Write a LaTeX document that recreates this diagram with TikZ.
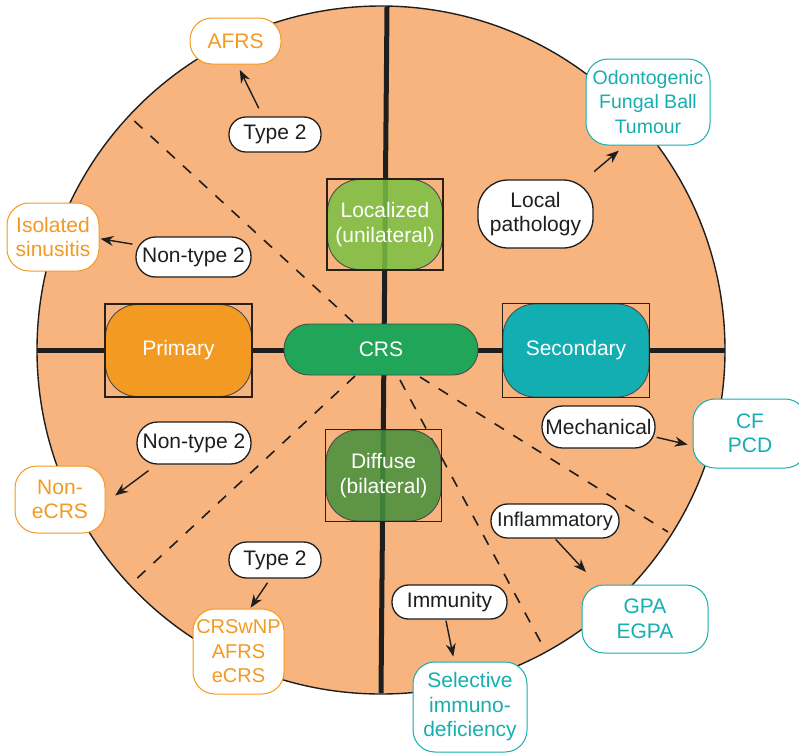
\documentclass[tikz,border=0pt]{standalone}
\usepackage{fontspec}
\setmainfont{Liberation Sans}
\usetikzlibrary{arrows.meta}

\definecolor{peach}{HTML}{F7B47F}
\definecolor{crsgreen}{HTML}{21A659}
\definecolor{primaryc}{HTML}{F39A22}
\definecolor{secondaryc}{HTML}{12AEB2}
\definecolor{localc}{HTML}{7AC043}
\definecolor{diffusec}{HTML}{43903C}
\definecolor{outorange}{HTML}{F39A22}
\definecolor{outteal}{HTML}{17AEAF}
\definecolor{framec}{HTML}{2A2018}
\definecolor{inkc}{HTML}{1E1E1E}

\newcommand{\txt}{\fontsize{21}{24.5}\selectfont}

\tikzset{
  axisline/.style={draw=inkc, line width=5pt},
  divider/.style={draw=inkc, line width=1.6pt, dash pattern=on 11pt off 11pt},
  mainbox/.style={draw=inkc!80, line width=0.9pt, rounded corners=32pt,
    text=white, align=center, inner sep=0pt, font=\txt},
  seethrough/.style={fill opacity=0.85, text opacity=1},
  framebox/.style={draw=framec, line width=1.4pt},
  pill/.style={draw=inkc, line width=1.3pt, fill=white, rounded corners=#1,
    text=inkc, align=center, inner sep=0pt, font=\txt},
  outbox/.style={draw=#1, line width=1pt, fill=white, rounded corners=22pt,
    text=#1, align=center, inner sep=0pt, font=\txt},
  arr/.style={draw=inkc, line width=1.4pt, -{Stealth[length=13pt,width=10pt]}}
}

\begin{document}
\begin{tikzpicture}[x=1pt,y=-1pt]
\useasboundingbox (0,0) rectangle (799,753);

% disc and its two axes
\fill[peach] (381,350) circle (344pt);
\draw[inkc, line width=1.4pt] (381,350) circle (344pt);
\draw[axisline] (387,7) -- (381,693);
\draw[axisline] (37,350) -- (725,350);

% dashed sector dividers
\draw[divider] (353,322) -- (130,117);
\draw[divider] (355,376) -- (132,583);
\draw[divider] (420,377) -- (668,532);
\draw[divider] (400,380) -- (545,650);

% classification boxes
\node[mainbox, fill=primaryc, minimum width=146pt, minimum height=92pt] (primary) at (178.5,350.5) {Primary};
\draw[framebox] (primary.north west) rectangle (primary.south east);
\node[mainbox, fill=secondaryc, minimum width=146pt, minimum height=93pt] (secondary) at (576,350.5) {Secondary};
\draw[framebox] (secondary.north west) rectangle (secondary.south east);
\node[mainbox, seethrough, fill=localc, minimum width=115pt, minimum height=90pt] (localized) at (385,224.5) {Localized\\(unilateral)};
\draw[framebox] (localized.north west) rectangle (localized.south east);
\node[mainbox, seethrough, fill=diffusec, minimum width=115pt, minimum height=91pt] (diffuse) at (383.5,475.5) {Diffuse\\(bilateral)};
\draw[framebox] (diffuse.north west) rectangle (diffuse.south east);

\node[mainbox, fill=crsgreen, rounded corners=25pt, minimum width=194pt, minimum height=51pt] (crs) at (381,349.5) {CRS};

% mechanism labels
\node[pill=17pt, minimum width=92pt, minimum height=35pt] (t2a) at (275,134.5) {Type 2};
\node[pill=19.5pt, minimum width=115pt, minimum height=40pt] (nt2a) at (193.5,257) {Non-type 2};
\node[pill=30pt, minimum width=115pt, minimum height=68pt] (lp) at (535.5,214) {Local\\pathology};
\node[pill=20.5pt, minimum width=114pt, minimum height=42pt] (nt2b) at (194,443) {Non-type 2};
\node[pill=17.5pt, minimum width=92pt, minimum height=36pt] (t2b) at (275,560) {Type 2};
\node[pill=20.5pt, minimum width=113pt, minimum height=42pt] (mech) at (598.5,427) {Mechanical};
\node[pill=16.5pt, minimum width=128pt, minimum height=34pt, font=\fontsize{20}{24}\selectfont] (infl) at (555,521) {Inflammatory};
\node[pill=16.5pt, minimum width=115pt, minimum height=34pt] (immu) at (449.5,602) {Immunity};

% resulting entities
\node[outbox=outorange, minimum width=91pt, minimum height=46pt] (afrs) at (235.5,41) {AFRS};
\node[outbox=outorange, minimum width=92pt, minimum height=68pt] (iso) at (53,237) {Isolated\\sinusitis};
\node[outbox=outorange, minimum width=90pt, minimum height=67pt] (nonecrs) at (60,499.5) {Non-\\eCRS};
\node[outbox=outorange, minimum width=91pt, minimum height=85pt, font=\fontsize{20}{24.5}\selectfont] (crswnp) at (238.5,651.5) {CRSwNP\\AFRS\\eCRS};
\node[outbox=outteal, minimum width=124pt, minimum height=86pt, font=\fontsize{19.5}{24.5}\selectfont] (odon) at (648,102) {Odontogenic\\Fungal Ball\\Tumour};
\node[outbox=outteal, minimum width=114pt, minimum height=69pt] (cfpcd) at (750,433.5) {CF\\PCD};
\node[outbox=outteal, minimum width=126pt, minimum height=68pt] (gpa) at (645,619) {GPA\\EGPA};
\node[outbox=outteal, minimum width=114pt, minimum height=90pt] (sel) at (470,707) {Selective\\immuno-\\deficiency};

% arrows
\draw[arr, shorten <=9pt, shorten >=6pt] (t2a.124) -- (afrs.-86);
\draw[arr, shorten <=3pt, shorten >=1pt] (nt2a.168) -- (iso.-2.5);
\draw[arr, shorten <=12pt, shorten >=8pt] (lp.35) -- (odon.-118);
\draw[arr, shorten <=10pt, shorten >=12pt] (nt2b.210) -- (nonecrs.-4.5);
\draw[arr, shorten <=5pt, shorten >=1pt] (t2b.256) -- (crswnp.75.5);
\draw[arr, shorten <=1pt, shorten >=5pt] (mech.-10) -- (cfpcd.192.4);
\draw[arr, shorten <=1pt, shorten >=17pt] (infl.south) -- (gpa.144);
\draw[arr, shorten <=1pt, shorten >=5pt] (immu.258) -- (sel.109.6);
\end{tikzpicture}
\end{document}
